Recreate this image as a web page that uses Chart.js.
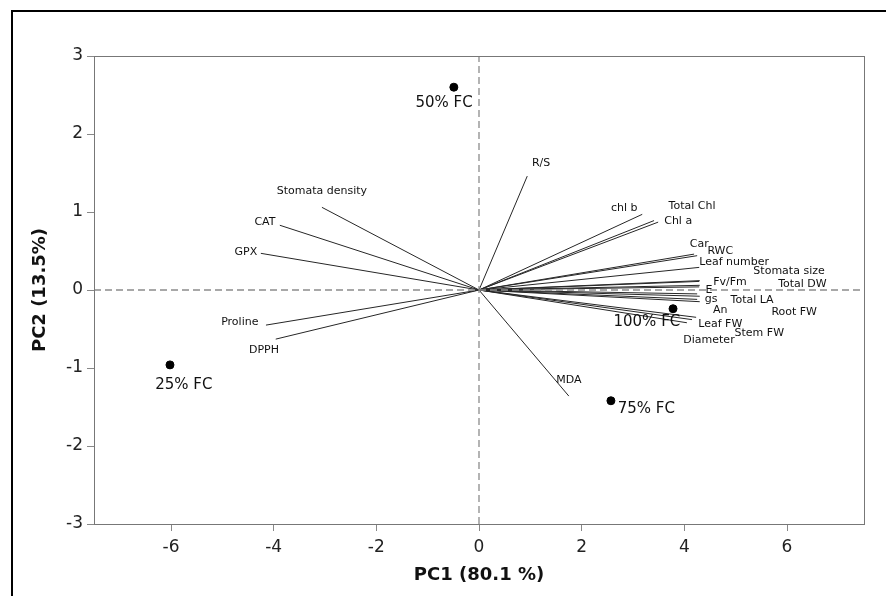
<!DOCTYPE html>
<html lang="en">
<head>
    <meta charset="UTF-8">
    <title>PCA biplot</title>
    <script src="https://cdn.jsdelivr.net/npm/chart.js"></script>
    <style>
        html, body { margin: 0; padding: 0; background: #fff; }
        .wrap { position: relative; width: 886px; height: 596px; }
        .frame { position: absolute; left: 11px; top: 10px; right: -4px; bottom: -4px;
                 border-top: 2px solid #000; border-left: 2px solid #000; pointer-events: none; }
        canvas { position: absolute; left: 0; top: 0; }
    </style>
</head>
<body>
<div class="wrap">
    <canvas id="biplot" width="886" height="596"></canvas>
    <div class="frame"></div>
</div>

<script>
    // variables (loadings) and where their names sit
    const varNames = ['R/S', 'chl b', 'Total Chl', 'Chl a', 'Car', 'RWC', 'Leaf number', 'Stomata size',
        'Fv/Fm', 'Total DW', 'E', 'gs', 'Total LA', 'An', 'Root FW', 'Leaf FW', 'Stem FW', 'Diameter',
        'MDA', 'Stomata density', 'CAT', 'GPX', 'Proline', 'DPPH'];
    const loadX = [0.94, 3.18, 3.41, 3.49, 4.19, 4.25, 4.29, 4.30,
        4.29, 4.30, 4.29, 4.25, 4.30, 4.25, 4.30, 4.23, 4.15, 4.05,
        1.75, -3.06, -3.88, -4.25, -4.15, -3.96];
    const loadY = [1.46, 0.97, 0.89, 0.87, 0.46, 0.44, 0.29, 0.12,
        0.11, 0.06, 0.04, -0.05, -0.08, -0.12, -0.15, -0.35, -0.38, -0.42,
        -1.36, 1.06, 0.83, 0.47, -0.45, -0.63];
    const labelX = [1.21, 2.83, 4.15, 3.88, 4.29, 4.70, 4.97, 6.04,
        4.89, 6.30, 4.48, 4.52, 5.32, 4.70, 6.14, 4.70, 5.46, 4.48,
        1.75, -3.06, -4.17, -4.54, -4.66, -4.19];
    const labelY = [1.63, 1.05, 1.08, 0.88, 0.59, 0.50, 0.36, 0.24,
        0.10, 0.08, 0.00, -0.12, -0.13, -0.26, -0.28, -0.44, -0.55, -0.64,
        -1.15, 1.27, 0.87, 0.49, -0.41, -0.77];

    // treatment scores
    const groups = ['25% FC', '50% FC', '75% FC', '100% FC'];
    const scoreX = [-6.02, -0.49, 2.57, 3.78];
    const scoreY = [-0.96, 2.60, -1.42, -0.24];
    const groupLabelX = [-5.75, -0.68, 3.26, 3.27];
    const groupLabelY = [-1.22, 2.40, -1.53, -0.41];

    const xTicks = [-6, -4, -2, 0, 2, 4, 6];
    const yTicks = [-3, -2, -1, 0, 1, 2, 3];
    const xRange = [-7.5, 7.5];
    const yRange = [-3, 3];

    document.addEventListener('DOMContentLoaded', () => {
        const datasets = [];

        // dashed lines through the origin
        datasets.push({ type: 'line', data: [{ x: xRange[0], y: 0 }, { x: xRange[1], y: 0 }],
            borderColor: '#8c8c8c', borderWidth: 1.3, borderDash: [7, 4], pointRadius: 0 });
        datasets.push({ type: 'line', data: [{ x: 0, y: yRange[0] }, { x: 0, y: yRange[1] }],
            borderColor: '#8c8c8c', borderWidth: 1.3, borderDash: [7, 4], pointRadius: 0 });

        // one line per loading vector
        varNames.forEach((n, i) => {
            datasets.push({ type: 'line', label: n,
                data: [{ x: 0, y: 0 }, { x: loadX[i], y: loadY[i] }],
                borderColor: '#262626', borderWidth: 1, pointRadius: 0 });
        });

        datasets.push({ type: 'scatter', label: 'scores',
            data: scoreX.map((x, i) => ({ x, y: scoreY[i] })),
            backgroundColor: '#000', borderColor: '#000', pointRadius: 4 });

        // names of vectors and groups, plus the plot frame
        const labelsPlugin = {
            id: 'biplotLabels',
            afterDatasetsDraw(chart) {
                const { ctx, scales: { x, y }, chartArea: a } = chart;
                ctx.save();
                ctx.textAlign = 'center';
                ctx.textBaseline = 'middle';
                ctx.fillStyle = '#111';
                ctx.font = '11px "DejaVu Sans", Tahoma, sans-serif';
                varNames.forEach((n, i) => {
                    ctx.fillText(n, x.getPixelForValue(labelX[i]), y.getPixelForValue(labelY[i]));
                });
                ctx.font = '15px "DejaVu Sans", Tahoma, sans-serif';
                groups.forEach((g, i) => {
                    ctx.fillText(g, x.getPixelForValue(groupLabelX[i]), y.getPixelForValue(groupLabelY[i]));
                });
                ctx.strokeStyle = '#777';
                ctx.lineWidth = 1;
                ctx.strokeRect(a.left + 0.5, a.top + 0.5, a.right - a.left, a.bottom - a.top);
                ctx.restore();
            }
        };

        const tickFont = { family: '"DejaVu Sans", Tahoma, sans-serif', size: 17 };
        const titleFont = { family: '"DejaVu Sans", Tahoma, sans-serif', size: 18, weight: 'bold' };

        new Chart(document.getElementById('biplot').getContext('2d'), {
            type: 'scatter',
            data: { datasets },
            options: {
                responsive: false,
                animation: false,
                layout: { padding: { top: 56, right: 22, left: 0, bottom: 0 } },
                plugins: { legend: { display: false }, tooltip: { enabled: false } },
                scales: {
                    x: {
                        type: 'linear', min: xRange[0], max: xRange[1],
                        afterBuildTicks: s => { s.ticks = xTicks.map(v => ({ value: v })); },
                        afterFit: s => { s.height = 72; },
                        grid: { drawOnChartArea: false, drawTicks: true, tickLength: 7, color: '#888' },
                        border: { color: '#777' },
                        ticks: { font: tickFont, color: '#222', padding: 6, maxRotation: 0 },
                        title: { display: true, text: 'PC1 (80.1 %)', font: titleFont, color: '#111',
                                 padding: { top: 0, bottom: 10 } }
                    },
                    y: {
                        type: 'linear', min: yRange[0], max: yRange[1],
                        afterBuildTicks: s => { s.ticks = yTicks.map(v => ({ value: v })); },
                        afterFit: s => { s.width = 94; },
                        grid: { drawOnChartArea: false, drawTicks: true, tickLength: 7, color: '#888' },
                        border: { color: '#777' },
                        ticks: { font: tickFont, color: '#222', padding: 4 },
                        title: { display: true, text: 'PC2 (13.5%)', font: titleFont, color: '#111',
                                 padding: { top: 30, bottom: 0 } }
                    }
                }
            },
            plugins: [labelsPlugin]
        });
    });
</script>
</body>
</html>
